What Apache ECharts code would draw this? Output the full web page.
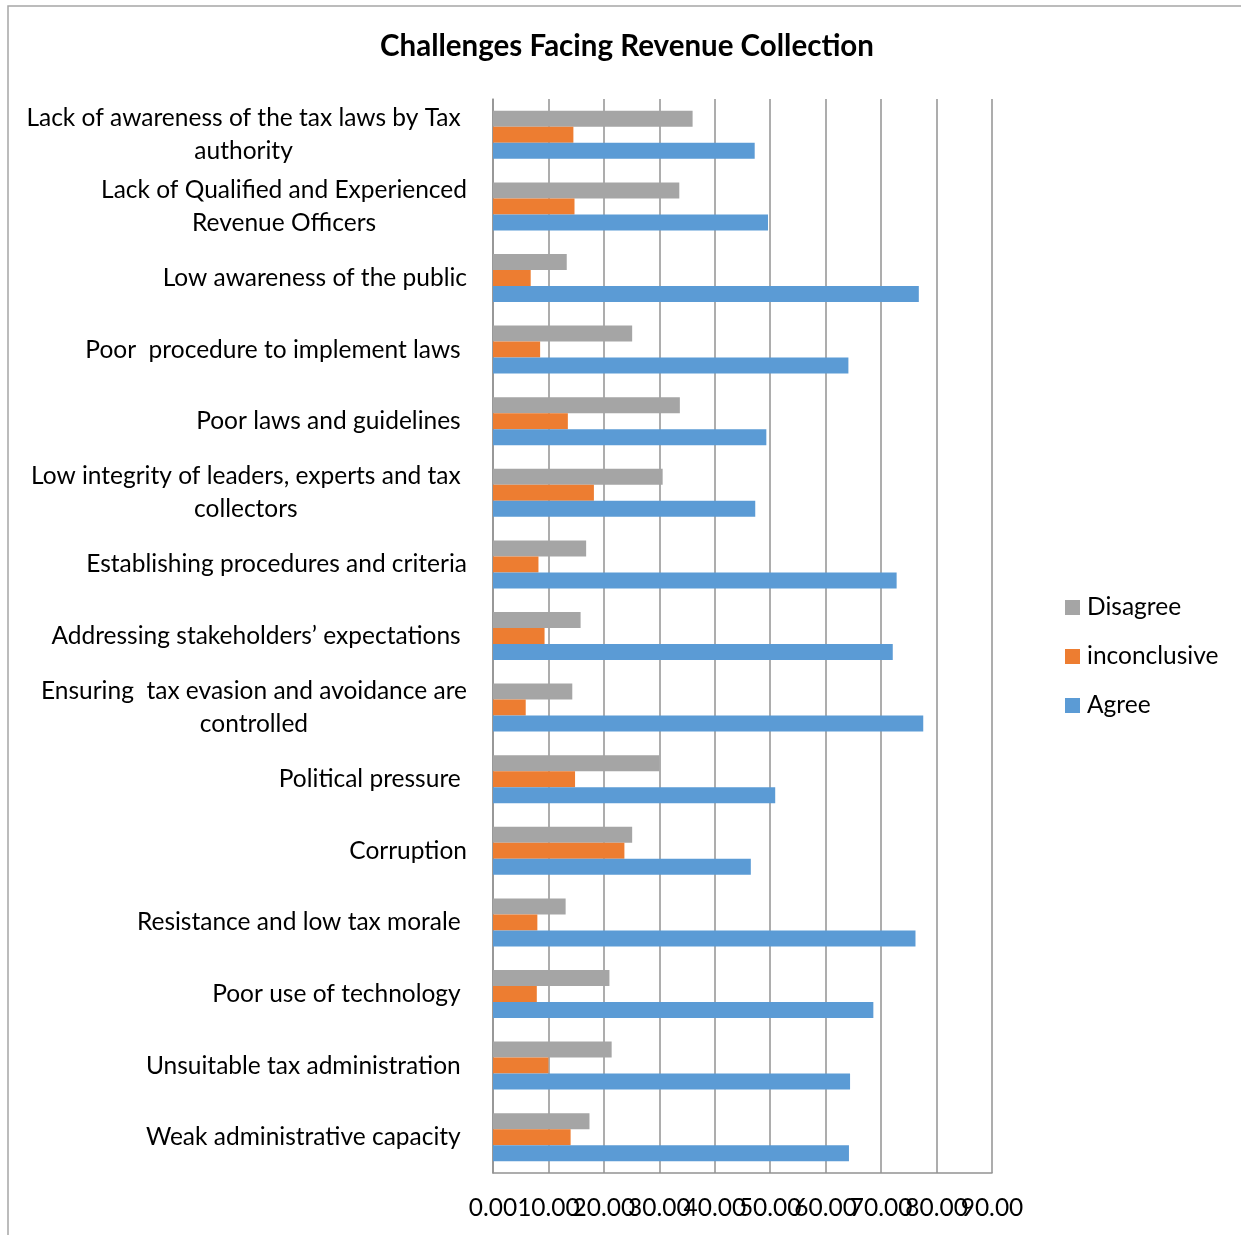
<!DOCTYPE html>
<html>
<head>
<meta charset="utf-8">
<title>Challenges Facing Revenue Collection</title>
<script src="https://cdn.jsdelivr.net/npm/echarts@6/dist/echarts.min.js"></script>
<style>
  html, body { margin: 0; padding: 0; background: #ffffff; }
  #chart { width: 1241px; height: 1235px; }
</style>
</head>
<body>
<div id="chart"></div>
<script>
// Challenges, listed top to bottom as they appear on the chart
const categories = [
  'Lack of awareness of the tax laws by Tax \nauthority ',
  'Lack of Qualified and Experienced\nRevenue Officers',
  'Low awareness of the public',
  'Poor  procedure to implement laws ',
  'Poor laws and guidelines ',
  'Low integrity of leaders, experts and tax \ncollectors ',
  'Establishing procedures and criteria',
  'Addressing stakeholders\u2019 expectations ',
  'Ensuring  tax evasion and avoidance are\ncontrolled',
  'Political pressure ',
  'Corruption',
  'Resistance and low tax morale ',
  'Poor use of technology ',
  'Unsuitable tax administration ',
  'Weak administrative capacity '
];

// Share of respondents (%) per challenge
const disagree     = [36.0, 33.6, 13.3, 25.1, 33.7, 30.6, 16.8, 15.8, 14.3, 30.0, 25.1, 13.1, 21.0, 21.4, 17.4];
const inconclusive = [14.5, 14.7,  6.8,  8.5, 13.5, 18.2,  8.2,  9.3,  5.9, 14.8, 23.7,  8.0,  7.9, 10.0, 14.0];
const agree        = [47.2, 49.6, 76.8, 64.1, 49.3, 47.3, 72.8, 72.1, 77.6, 50.9, 46.5, 76.2, 68.6, 64.4, 64.2];

const seriesNames = ['Disagree', 'inconclusive', 'Agree'];

// Value axis range and step
const axisMin = 0;
const axisMax = 90;
const axisStep = 10;

const FONT = 'Lato';
const SIZE = 24.5;
const LINE = '#929292';

const tickLabel = {
  margin: 23,
  hideOverlap: false,
  fontFamily: FONT,
  fontSize: SIZE,
  color: '#000000',
  formatter: v => v.toFixed(2)
};

const chart = echarts.init(document.getElementById('chart'), null, { renderer: 'canvas' });

chart.setOption({
  backgroundColor: '#ffffff',
  animation: false,
  color: ['#A5A5A5', '#ED7D31', '#5B9BD5'],
  title: {
    text: 'Challenges Facing Revenue Collection',
    left: 627,
    textAlign: 'center',
    top: 31,
    padding: 0,
    textStyle: { fontFamily: FONT, fontWeight: 'bold', fontSize: 29.5, color: '#000000' }
  },
  graphic: [{
    type: 'rect',
    silent: true,
    shape: { x: 8, y: 6, width: 1400, height: 1400 },
    style: { fill: 'none', stroke: '#a6a6a6', lineWidth: 1.5 }
  }],
  legend: {
    data: seriesNames,
    orient: 'vertical',
    left: 1060,
    top: 590,
    itemWidth: 15,
    itemHeight: 15,
    itemGap: 24,
    icon: 'rect',
    textStyle: { fontFamily: FONT, fontSize: SIZE, lineHeight: 24, color: '#000000', padding: [0, 0, 0, 2] }
  },
  grid: {
    left: 493,
    right: 249,
    top: 99,
    bottom: 62,
    containLabel: false
  },
  xAxis: [
    {
      // main value axis: grid lines and the 0.00 - 80.00 labels
      type: 'value',
      position: 'bottom',
      min: axisMin,
      max: axisMax,
      interval: axisStep,
      axisLine: { show: true, lineStyle: { color: LINE, width: 1.5 } },
      axisTick: { show: false },
      splitLine: { show: true, lineStyle: { color: LINE, width: 1.5 } },
      axisLabel: Object.assign({ showMinLabel: true, showMaxLabel: false }, tickLabel)
    },
    {
      // companion axis on the same line that carries only the end label
      type: 'value',
      position: 'bottom',
      min: axisMin,
      max: axisMax,
      interval: axisMax - axisMin,
      axisLine: { show: false },
      axisTick: { show: false },
      splitLine: { show: false },
      axisLabel: Object.assign({ showMinLabel: false, showMaxLabel: true }, tickLabel)
    }
  ],
  yAxis: {
    type: 'category',
    inverse: true,
    data: categories,
    axisLine: { show: true, lineStyle: { color: LINE, width: 1.5 } },
    axisTick: { show: false },
    splitLine: { show: false },
    axisLabel: {
      interval: 0,
      margin: 26,
      align: 'right',
      fontFamily: FONT,
      fontSize: SIZE,
      color: '#000000',
      formatter: v => v.split('\n').map(line => '{c|' + line + '}').join('\n'),
      rich: {
        c: { align: 'center', fontFamily: FONT, fontSize: SIZE, lineHeight: 33, color: '#000000' }
      }
    }
  },
  series: [
    { name: seriesNames[0], type: 'bar', xAxisIndex: 0, data: disagree, barGap: '0%', barCategoryGap: '33%' },
    { name: seriesNames[1], type: 'bar', xAxisIndex: 0, data: inconclusive, barGap: '0%', barCategoryGap: '33%' },
    { name: seriesNames[2], type: 'bar', xAxisIndex: 0, data: agree, barGap: '0%', barCategoryGap: '33%' }
  ]
});
</script>
</body>
</html>
